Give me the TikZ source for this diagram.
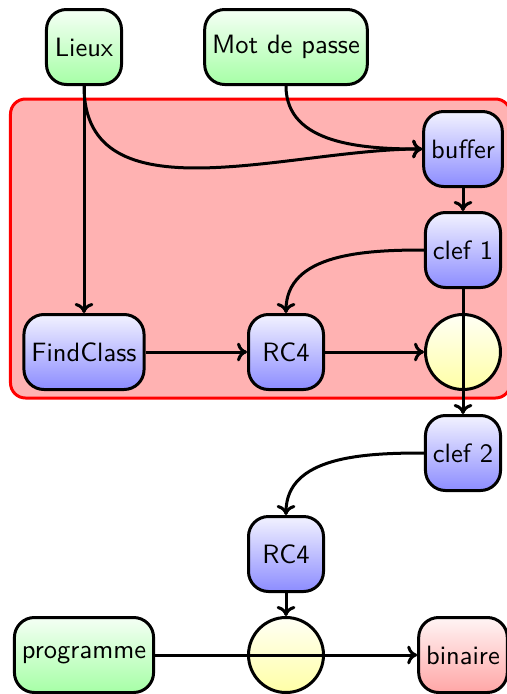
\documentclass[tikz,border=0pt]{standalone}
\usetikzlibrary{arrows.meta}
\begin{document}
\begin{tikzpicture}[x=0.4pt,y=-0.4pt,
  box/.style={draw=black,line width=1.2pt,rounded corners=8pt,minimum height=30pt,minimum width=30pt,inner xsep=3pt,font=\sffamily\fontsize{10.6}{12}\selectfont},
  green box/.style={box,top color=green!4,bottom color=green!35},
  blue box/.style={box,top color=blue!5,bottom color=blue!45},
  red box/.style={box,top color=red!4,bottom color=red!35},
  xor/.style={circle,draw=black,line width=1.2pt,minimum size=30pt,inner sep=0pt,top color=yellow!4,bottom color=yellow!35},
  conn/.style={line width=1.2pt,-{To[length=4pt,width=7.5pt]}}]
\useasboundingbox (0,0) rectangle (507,694);
\node[draw=red,line width=1.2pt,fill=red!30,rounded corners=6pt,minimum width=200pt,minimum height=119.6pt] (zone) at (260.5,248.5) {};
\node[green box] (lieux) at (84,47) {Lieux};
\node[green box] (mdp) at (286,47) {Mot de passe};
\node[blue box] (buffer) at (463,149) {buffer};
\node[blue box] (clef1) at (463,250) {clef 1};
\node[blue box] (find) at (84,352) {FindClass};
\node[blue box] (rc4a) at (286,352) {RC4};
\node[xor] (xa) at (463,352) {};
\node[blue box] (clef2) at (463,453) {clef 2};
\node[blue box] (rc4b) at (286,554) {RC4};
\node[green box] (prog) at (84,655) {programme};
\node[xor] (xb) at (286,655) {};
\node[red box] (bin) at (463,655) {binaire};
\draw[conn] (lieux.south) to[out=-90,in=180] (buffer.west);
\draw[conn] (mdp.south) to[out=-90,in=180] (buffer.west);
\draw[conn] (buffer) -- (clef1);
\draw[conn] (clef1.west) to[out=180,in=90] (rc4a.north);
\draw[conn] (lieux) -- (find);
\draw[conn] (find) -- (rc4a);
\draw[conn] (rc4a) -- (xa);
\draw[conn] (clef1.south) -- (clef2.north);
\draw[conn] (clef2.west) to[out=180,in=90] (rc4b.north);
\draw[conn] (rc4b) -- (xb);
\draw[conn] (prog.east) -- (bin.west);
\end{tikzpicture}
\end{document}
